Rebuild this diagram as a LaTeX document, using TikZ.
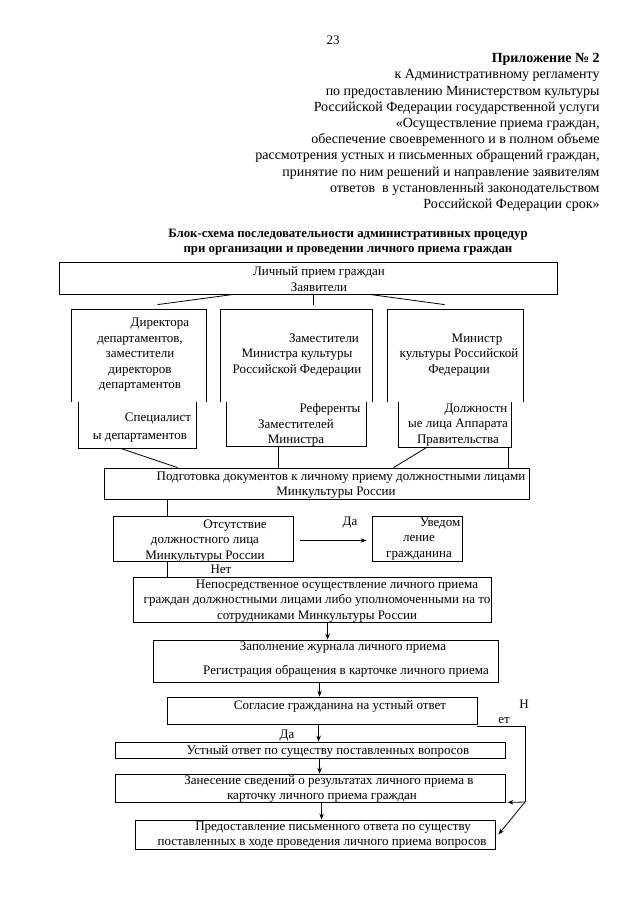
\documentclass[tikz,border=0pt]{standalone}
\usepackage{fontspec}
\setmainfont{Liberation Serif}
\usetikzlibrary{arrows.meta,fit}
\tikzset{
  box/.style={draw, line width=0.8pt, inner sep=0pt},
  frame/.style={inner sep=0pt},
  txt/.style={align=center, inner sep=0pt, font=\fontsize{13}{15.5}\selectfont},
  >={Stealth[length=6pt,width=4.5pt]},
}
\begin{document}
\begin{tikzpicture}[x=1pt,y=-1pt,line width=0.8pt]
  \useasboundingbox[fill=white] (0,0) rectangle (640,905);
  % header
  \node[txt] (page) at (333,40) {23};
  \node[txt, align=right, anchor=north east, font=\fontsize{14}{16.2}\selectfont] (head) at (600,53)
    {\textbf{Приложение № 2}\\
     к Административному регламенту\\
     по предоставлению Министерством культуры\\
     Российской Федерации государственной услуги\\
     «Осуществление приема граждан,\\
     обеспечение своевременного и в полном объеме\\
     рассмотрения устных и письменных обращений граждан,\\
     принятие по ним решений и направление заявителям\\
     ответов\ \ в установленный законодательством\\
     Российской Федерации срок»};
  \node[txt, font=\bfseries\fontsize{12.8}{14.5}\selectfont] (title) at (348,242)
    {Блок-схема последовательности административных процедур\\
     при организации и проведении личного приема граждан};
  % boxes
  \node[box, fit={(59,262) (557,294)}] (A) {};
  \node[frame, fit={(72,310) (206,402)}] (B1) {};
  \node[frame, fit={(79,402) (196,448)}] (B2) {};
  \node[frame, fit={(221,310) (372,402)}] (B3) {};
  \node[frame, fit={(227,402) (366,446)}] (B4) {};
  \node[frame, fit={(388,310) (523,402)}] (B5) {};
  \node[frame, fit={(399,402) (511,447)}] (B6) {};
  \node[box, fit={(104,468) (529,499)}] (P) {};
  \node[box, fit={(113,516) (293,561)}] (C1) {};
  \node[box, fit={(372,516) (462,561)}] (C2) {};
  \node[box, fit={(133,577) (491,622)}] (D) {};
  \node[box, fit={(153,640) (498,682)}] (E) {};
  \node[box, fit={(167,697) (477,724)}] (F) {};
  \node[box, fit={(115,742) (505,758)}] (G) {};
  \node[box, fit={(115,774) (505,802)}] (H) {};
  \node[box, fit={(135,820) (495,849)}] (I) {};
  \foreach \b in {B1,B3,B5}
    \draw (\b.south west) -- (\b.north west) -- (\b.north east) -- (\b.south east);
  \foreach \b in {B2,B4,B6}
    \draw (\b.north west) -- (\b.south west) -- (\b.south east) -- (\b.north east);
  % texts
  \node[txt] (tA) at (319,279) {Личный прием граждан\\Заявители};
  \node[txt] (tB1) at (140,355) {\hspace*{40pt}Директора\\департаментов,\\заместители\\директоров\\департаментов};
  \node[txt] (tB2) at (140,428) {\hspace*{36pt}Специалист\\[2.5pt]ы департаментов};
  \node[txt] (tB3) at (297,355) {\hspace*{54pt}Заместители\\Министра культуры\\Российской Федерации};
  \node[txt] (tB4) at (296,425) {\hspace*{68pt}Референты\\Заместителей\\Министра};
  \node[txt] (tB5) at (459,355) {\hspace*{36pt}Министр\\культуры Российской\\Федерации};
  \node[txt] (tB6) at (458,425) {\hspace*{36pt}Должностн\\ые лица Аппарата\\Правительства};
  \node[txt] (tP) at (336,485) {\hspace*{10pt}Подготовка документов к личному приему должностными лицами\\Минкультуры России};
  \node[txt] (tC1) at (205,541) {\hspace*{60pt}Отсутствие\\должностного лица\\Минкультуры России};
  \node[txt] (tC2) at (419,539) {\hspace*{42pt}Уведом\\ление\\гражданина};
  \node[txt] (tD) at (317,601) {\hspace*{40pt}Непосредственное осуществление личного приема\\граждан должностными лицами либо уполномоченными на то\\сотрудниками Минкультуры России};
  \node[txt] (tE) at (346,660) {\hspace*{-6pt}Заполнение журнала личного приема\\[8.5pt]Регистрация обращения в карточке личного приема};
  \node[txt] (tF) at (340,706) {Согласие гражданина на устный ответ};
  \node[txt] (tG) at (328,751) {Устный ответ по существу поставленных вопросов};
  \node[txt] (tH) at (322,789) {\hspace*{14pt}Занесение сведений о результатах личного приема в\\карточку личного приема граждан};
  \node[txt] (tI) at (322,835) {\hspace*{22pt}Предоставление письменного ответа по существу\\поставленных в ходе проведения личного приема вопросов};
  % labels
  \node[txt] (yes1) at (350,523) {Да};
  \node[txt] (no1) at (221,569) {Нет};
  \node[txt] (yes2) at (287,736) {Да};
  \node[txt] (no2a) at (524,704) {Н};
  \node[txt] (no2b) at (504,720) {ет};
  % connectors
  \draw ([xshift=175pt]A.south west) -- ([xshift=86pt,yshift=5pt]B1.north west);
  \draw ([xshift=255pt]A.south west) -- ([xshift=93pt,yshift=5pt]B3.north west);
  \draw ([xshift=311pt]A.south west) -- ([xshift=57pt,yshift=5pt]B5.north west);
  \draw ([xshift=42pt]B2.south west) -- ([xshift=74pt]P.north west);
  \draw ([xshift=52pt]B4.south west) -- ([xshift=175pt]P.north west);
  \draw ([xshift=28pt]B6.south west) -- ([xshift=290pt]P.north west);
  \draw ([xshift=-3pt]B6.south east) coordinate (r6) -- (r6 |- P.north);
  \draw ([xshift=64pt]P.south west) -- ([xshift=55pt]C1.north west);
  \draw[->] ([xshift=7pt,yshift=-2pt]C1.east) -- ([xshift=-5pt,yshift=-2pt]C2.west);
  \draw ([xshift=55pt]C1.south west) -- ([xshift=35pt]D.north west);
  \draw[->] ([xshift=195pt]D.south west) -- ([xshift=175pt]E.north west);
  \draw[->] ([xshift=167pt]E.south west) -- ([xshift=153pt]F.north west);
  \draw[->] ([xshift=152pt]F.south west) -- ([xshift=204pt]G.north west);
  \draw[->] ([xshift=205pt]G.south west) -- ([xshift=205pt]H.north west);
  \draw[->] ([xshift=207pt]H.south west) -- ([xshift=187pt]I.north west);
  \coordinate (turn) at (525,802);
  \draw ([yshift=-2pt]F.south east) -| (turn);
  \draw[->] (turn) -- ([xshift=2pt]H.south east);
  \draw[->] (turn) -- ([xshift=3pt]I.east);
\end{tikzpicture}
\end{document}
